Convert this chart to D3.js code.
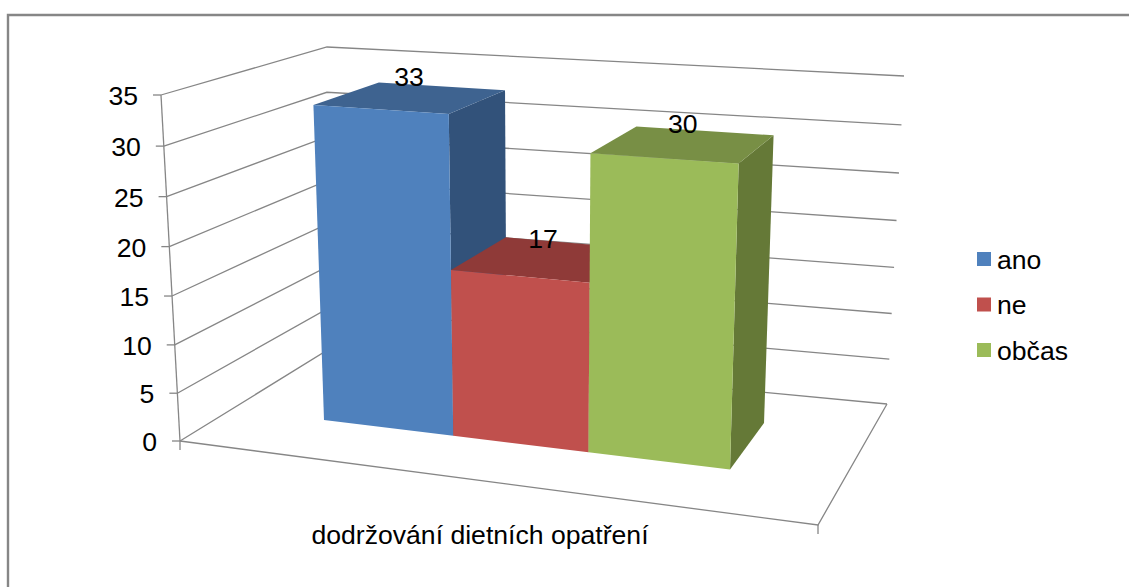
<!DOCTYPE html>
<html><head><meta charset="utf-8">
<style>html,body{margin:0;padding:0;background:#fff}svg{display:block}text{font-family:"Liberation Sans",Arial,sans-serif;fill:#000}</style>
<script src="https://cdn.jsdelivr.net/npm/d3@7"></script>
</head><body><svg id="c" width="1129" height="587"></svg>
<script>
const categories = ["ano", "ne", "občas"];
const values = [33, 17, 30];
const yTicks = [0, 5, 10, 15, 20, 25, 30, 35];
const axisTitle = "dodržování dietních opatření";
const frontColors = ["#4F81BD", "#C0504D", "#9BBB59"];
const topColors = ["#3E6390", "#8F3A38", "#788F45"];
const sideColors = ["#32527A", "#8F3A38", "#657937"];

const svg = d3.select("#c");
const GRID = "#868686";
const FS = 26.6;

// Perspective mapping of the unit square to a screen quadrilateral
function quadMap(p0, p1, p2, p3) {
  const sx = p0[0]-p1[0]+p2[0]-p3[0], sy = p0[1]-p1[1]+p2[1]-p3[1];
  const d1x = p1[0]-p2[0], d1y = p1[1]-p2[1], d2x = p3[0]-p2[0], d2y = p3[1]-p2[1];
  const det = d1x*d2y - d2x*d1y;
  const g = (sx*d2y - d2x*sy)/det, h = (d1x*sy - sx*d1y)/det;
  const a = p1[0]-p0[0]+g*p1[0], b = p3[0]-p0[0]+h*p3[0];
  const d = p1[1]-p0[1]+g*p1[1], e = p3[1]-p0[1]+h*p3[1];
  return (u, v) => { const w = g*u+h*v+1; return [(a*u+b*v+p0[0])/w, (d*u+e*v+p0[1])/w]; };
}
const yScale = d3.scaleLinear().domain([0,35]).range([0,1]);
const lerp = (a,b,t) => [a[0]+(b[0]-a[0])*t, a[1]+(b[1]-a[1])*t];
const foreshorten = (t,k) => t/(1+k*(1-t));

// Wall corners: floor point and top point
const frontLeft = v => lerp([180,441],[161,95],foreshorten(yScale(v),0.04));
const backLeft  = v => lerp([326,351],[327,47],foreshorten(yScale(v),0.05));
const backRight = v => lerp([887,404],[904,76],foreshorten(yScale(v),0.05));
const frontRightFloor = [818,525];

// Bars: footprint on the floor plane, height along the vertical vanishing direction
const foot = quadMap([324,420],[730,469.5],[764,423],[386,380]);
const xBand = d3.scaleBand().domain(categories).range([0,1]);
const vanish = [545,7000];
function B(u, d, val) {
  const f = foot(u,d);
  const full = (334 + 0.0566*(f[0]-324)) * (1 - 0.065*d);
  const h = full*yScale(val);
  return [f[0] - (vanish[0]-f[0])/(vanish[1]-f[1])*h, f[1]-h];
}
const line = d3.line();

// Outer frame (left and top only)
svg.append("path").attr("d",line([[8,587],[8,15],[1129,15]])).attr("fill","none").attr("stroke",GRID).attr("stroke-width",2.4);

const gridG = svg.append("g").attr("fill","none").attr("stroke",GRID).attr("stroke-width",1.3);
yTicks.forEach(t => gridG.append("path").attr("d", line([frontLeft(t),backLeft(t),backRight(t)])));
gridG.append("path").attr("d", line([frontLeft(0),frontRightFloor,backRight(0)]));
gridG.append("path").attr("d", line([frontLeft(0),frontLeft(35)]));
yTicks.forEach(t => { const p = frontLeft(t); gridG.append("path").attr("d", line([[p[0]-8,p[1]],p])); });
[frontLeft(0),frontRightFloor].forEach(p => gridG.append("path").attr("d", line([p,[p[0],p[1]+9]])));

// Tick labels
yTicks.forEach(t => { const p = frontLeft(t);
  svg.append("text").attr("x",p[0]-23).attr("y",p[1]+10).attr("text-anchor","end").attr("font-size",FS).text(t); });

// Bars
categories.forEach((c,i) => {
  const u0 = xBand(c), u1 = u0 + xBand.bandwidth(), val = values[i];
  const g = svg.append("g");
  g.append("path").attr("fill",sideColors[i]).attr("d", line([B(u1,0,0),B(u1,1,0),B(u1,1,val),B(u1,0,val)])+"Z");
  g.append("path").attr("fill",topColors[i]).attr("d", line([B(u0,0,val),B(u0,1,val),B(u1,1,val),B(u1,0,val)])+"Z");
  g.append("path").attr("fill",frontColors[i]).attr("d", line([B(u0,0,0),B(u1,0,0),B(u1,0,val),B(u0,0,val)])+"Z");
});
// Data labels
categories.forEach((c,i) => {
  const p = B(xBand(c)+xBand.bandwidth()/2,0.45,values[i]);
  svg.append("text").attr("x",p[0]).attr("y",p[1]-12).attr("text-anchor","middle").attr("font-size",FS).text(values[i]);
});
// Axis title
svg.append("text").attr("x",480).attr("y",544).attr("text-anchor","middle").attr("font-size",FS).text(axisTitle);
// Legend
const legendY = d3.scalePoint().domain(categories).range([259,350]);
categories.forEach((c,i) => {
  svg.append("rect").attr("x",977).attr("y",legendY(c)-7).attr("width",14).attr("height",14).attr("fill",frontColors[i]);
  svg.append("text").attr("x",997).attr("y",legendY(c)+9.5).attr("font-size",FS).text(c);
});
</script></body></html>
